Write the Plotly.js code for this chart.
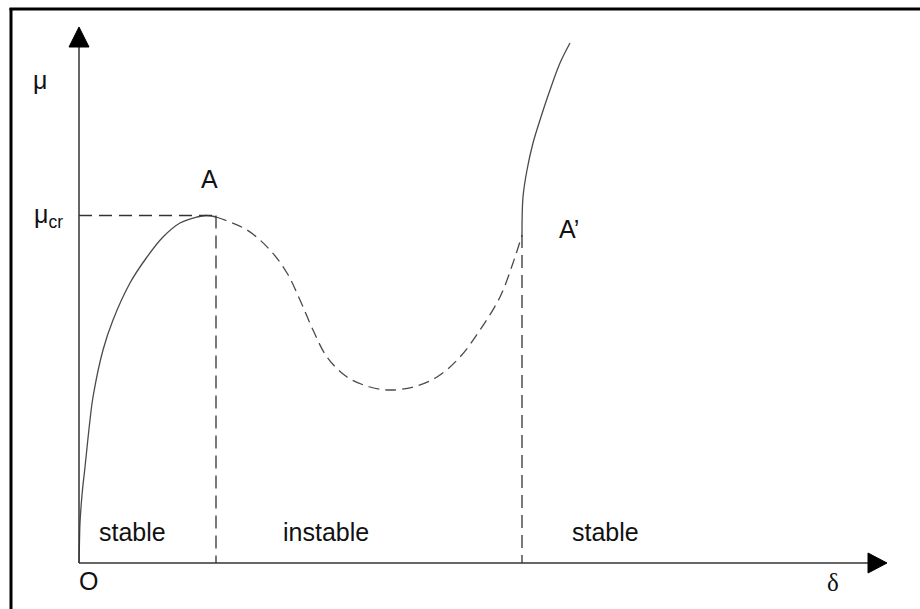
<!DOCTYPE html>
<html>
<head>
<meta charset="utf-8">
<script src="https://cdn.plot.ly/plotly-3.0.1.min.js"></script>
<style>
html,body{margin:0;padding:0;background:#fff;}
#chart{width:920px;height:609px;}
</style>
</head>
<body>
<div id="chart"></div>
<script>
// Schematic load–deflection curve (arbitrary units, origin O at 0,0)
// Stable branch O -> A
var stable1X = [0, 0.5, 1, 3, 6, 11, 14, 24, 34, 51, 68, 84, 101, 118, 127, 137];
var stable1Y = [0, 23, 40, 68, 96, 143, 166, 213, 243, 280, 306, 326, 340, 346, 347.5, 346];
// Unstable branch A -> A'
var unstableX = [137, 168, 191, 208, 221, 234, 248, 268, 291, 311, 334, 358, 381, 401, 421, 434, 443];
var unstableY = [346, 333, 313, 290, 263, 233, 206, 186, 176, 173, 176, 186, 206, 233, 266, 300, 328];
// Stable branch after A'
var stable2X = [443, 444, 448, 454, 461, 471, 481, 491];
var stable2Y = [328, 366, 393, 420, 443, 473, 500, 520];

var regionLabels = ["stable", "instable", "stable"];
var pointLabels = ["A", "A\u2019", "O"];
var axisLabels = ["\u03bc", "\u03b4", "\u03bc<sub>cr</sub>"];

var muCr = Math.max.apply(null, stable1Y);
var xA = stable1X[stable1X.length - 1];
var xA2 = stable2X[0];
var yA2 = stable2Y[0];

var curveColor = "#4a4a4a";
var traces = [
  {x: stable1X, y: stable1Y, mode: "lines", line: {color: curveColor, width: 1.3, shape: "spline"}, hoverinfo: "skip"},
  {x: unstableX, y: unstableY, mode: "lines", line: {color: curveColor, width: 1.3, dash: "11px,6px", shape: "spline"}, hoverinfo: "skip"},
  {x: stable2X, y: stable2Y, mode: "lines", line: {color: curveColor, width: 1.3, shape: "spline"}, hoverinfo: "skip"},
  {x: [0, xA], y: [muCr, muCr], mode: "lines", line: {color: "#333", width: 1.3, dash: "13px,7px"}, hoverinfo: "skip"},
  {x: [xA, xA], y: [muCr, 0], mode: "lines", line: {color: "#333", width: 1.3, dash: "13px,7px"}, hoverinfo: "skip"},
  {x: [xA2, xA2], y: [yA2, 0], mode: "lines", line: {color: "#333", width: 1.3, dash: "13px,7px"}, hoverinfo: "skip"}
];

var txtFont = {family: "Liberation Sans, Arial, sans-serif", size: 25, color: "#111"};
function ann(text, x, y, extra) {
  var a = {text: text, x: x, y: y, xref: "x", yref: "y", showarrow: false,
           xanchor: "center", yanchor: "middle", font: txtFont};
  for (var k in extra) a[k] = extra[k];
  return a;
}

var layout = {
  width: 920, height: 609,
  margin: {l: 0, r: 0, t: 0, b: 0},
  paper_bgcolor: "#fff", plot_bgcolor: "#fff",
  showlegend: false,
  xaxis: {range: [-79, 841], visible: false, fixedrange: true},
  yaxis: {range: [-46, 563], visible: false, fixedrange: true},
  shapes: [
    // frame
    {type: "line", x0: -68, x1: -68, y0: 555, y1: -50, line: {color: "#000", width: 3}},
    {type: "line", x0: -69.5, x1: 845, y0: 554, y1: 554, line: {color: "#000", width: 3}},
    // axes
    {type: "line", x0: 0, x1: 0, y0: 0, y1: 518, line: {color: "#333", width: 1.5}},
    {type: "line", x0: 0, x1: 790, y0: 0, y1: 0, line: {color: "#333", width: 1.5}},
    {type: "path", path: "M -10 516 L 10 516 L 0 536 Z", fillcolor: "#000", line: {color: "#000", width: 1}},
    {type: "path", path: "M 789 -10 L 789 10 L 808 0 Z", fillcolor: "#000", line: {color: "#000", width: 1}}
  ],
  annotations: [
    ann(axisLabels[0], -39, 483),
    ann(axisLabels[2], -14, muCr, {xanchor: "right"}),
    ann(axisLabels[1], 754, -19, {font: {family: "Liberation Serif, Times New Roman, serif", size: 25, color: "#111"}}),
    ann(pointLabels[0], 130, 384),
    ann(pointLabels[1], 490, 334),
    ann(pointLabels[2], 9.5, -18),
    ann(regionLabels[0], 53, 31),
    ann(regionLabels[1], 247, 31),
    ann(regionLabels[2], 526, 31)
  ]
};

Plotly.newPlot("chart", traces, layout, {staticPlot: true, displayModeBar: false});
</script>
</body>
</html>
